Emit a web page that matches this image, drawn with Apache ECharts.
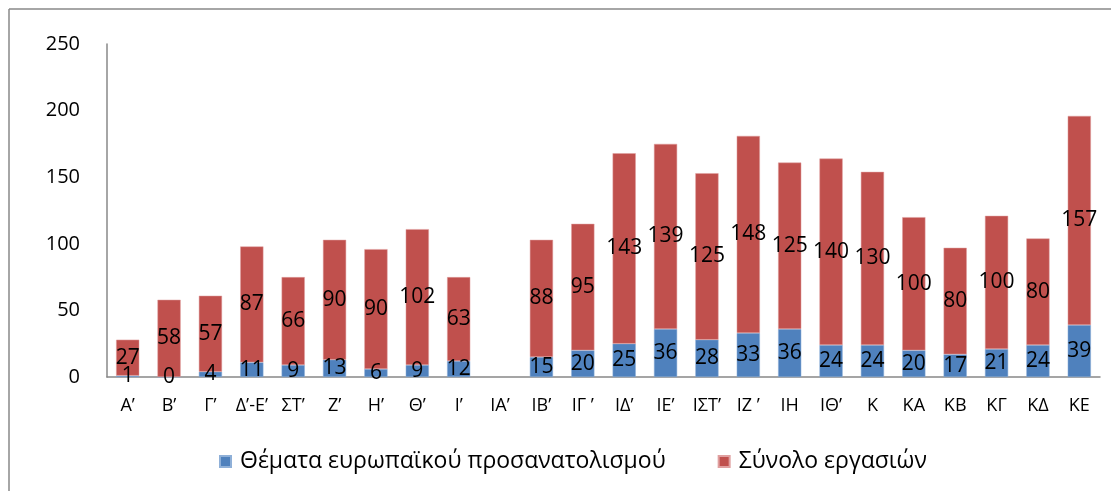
<!DOCTYPE html>
<html>
<head>
<meta charset="UTF-8">
<title>Εργασίες</title>
<script src="https://cdn.jsdelivr.net/npm/echarts@6/dist/echarts.min.js"></script>
<style>
html, body { margin: 0; padding: 0; background: #fff; }
#main { width: 1111px; height: 491px; }
</style>
</head>
<body>
<div id="main"></div>
<script type="text/javascript">
var categories = ['Α’', 'Β’', 'Γ’', 'Δ’-Ε’', 'ΣΤ’', 'Ζ’', 'Η’', 'Θ’', 'Ι’', 'ΙΑ’', 'ΙΒ’', 'ΙΓ ’', 'ΙΔ’', 'ΙΕ’', 'ΙΣΤ’', 'ΙΖ ’', 'ΙΗ', 'ΙΘ’', 'Κ', 'ΚΑ', 'ΚΒ', 'ΚΓ', 'ΚΔ', 'ΚΕ'];
var europeTopics = [1, 0, 4, 11, 9, 13, 6, 9, 12, null, 15, 20, 25, 36, 28, 33, 36, 24, 24, 20, 17, 21, 24, 39];
var totalWorks = [27, 58, 57, 87, 66, 90, 90, 102, 63, null, 88, 95, 143, 139, 125, 148, 125, 140, 130, 100, 80, 100, 80, 157];
var yTicks = { min: 0, max: 250, interval: 50 };

var FONT = '"Open Sans", "Noto Sans", sans-serif';
var myChart = echarts.init(document.getElementById('main'));

var option = {
    backgroundColor: '#fff',
    textStyle: { fontFamily: FONT },
    animation: false,
    // 外框（只有上边和左边）
    graphic: [
        { type: 'line', shape: { x1: 9, y1: 9, x2: 1111, y2: 9 }, style: { stroke: '#888', lineWidth: 1.5 } },
        { type: 'line', shape: { x1: 9, y1: 9, x2: 9, y2: 491 }, style: { stroke: '#888', lineWidth: 1.5 } }
    ],
    grid: { left: 107, right: 11, top: 44, bottom: 114 },
    legend: {
        top: 445,
        left: 214,
        itemWidth: 11,
        itemHeight: 11,
        itemGap: 52,
        icon: 'rect',
        textStyle: { fontSize: 23, color: '#000', fontFamily: FONT, padding: [0, 0, 0, 4] },
        data: ['Θέματα ευρωπαϊκού προσανατολισμού', 'Σύνολο εργασιών']
    },
    xAxis: {
        type: 'category',
        data: categories,
        axisLine: { lineStyle: { color: '#888', width: 1.5 } },
        axisTick: { show: false },
        axisLabel: { interval: 0, color: '#000', fontSize: 18, margin: 20, fontFamily: FONT }
    },
    yAxis: {
        type: 'value',
        min: yTicks.min,
        max: yTicks.max,
        interval: yTicks.interval,
        axisLine: { show: true, lineStyle: { color: '#888', width: 1.5 } },
        axisTick: { show: false },
        splitLine: { show: false },
        axisLabel: { color: '#000', fontSize: 20, margin: 27, fontFamily: FONT }
    },
    series: [{
        name: 'Θέματα ευρωπαϊκού προσανατολισμού',
        type: 'bar',
        stack: 'a',
        barCategoryGap: '44%',
        data: europeTopics,
        itemStyle: { color: '#4F81BD', borderColor: '#8fb0d8', borderWidth: 0.5 },
        label: { show: true, position: 'inside', color: '#000', fontSize: 21, fontFamily: FONT }
    }, {
        name: 'Σύνολο εργασιών',
        type: 'bar',
        stack: 'a',
        data: totalWorks,
        itemStyle: { color: '#C0504D', borderColor: '#e0a0a0', borderWidth: 0.5 },
        label: { show: true, position: 'inside', color: '#000', fontSize: 21, fontFamily: FONT }
    }]
};

myChart.setOption(option);
</script>
</body>
</html>
